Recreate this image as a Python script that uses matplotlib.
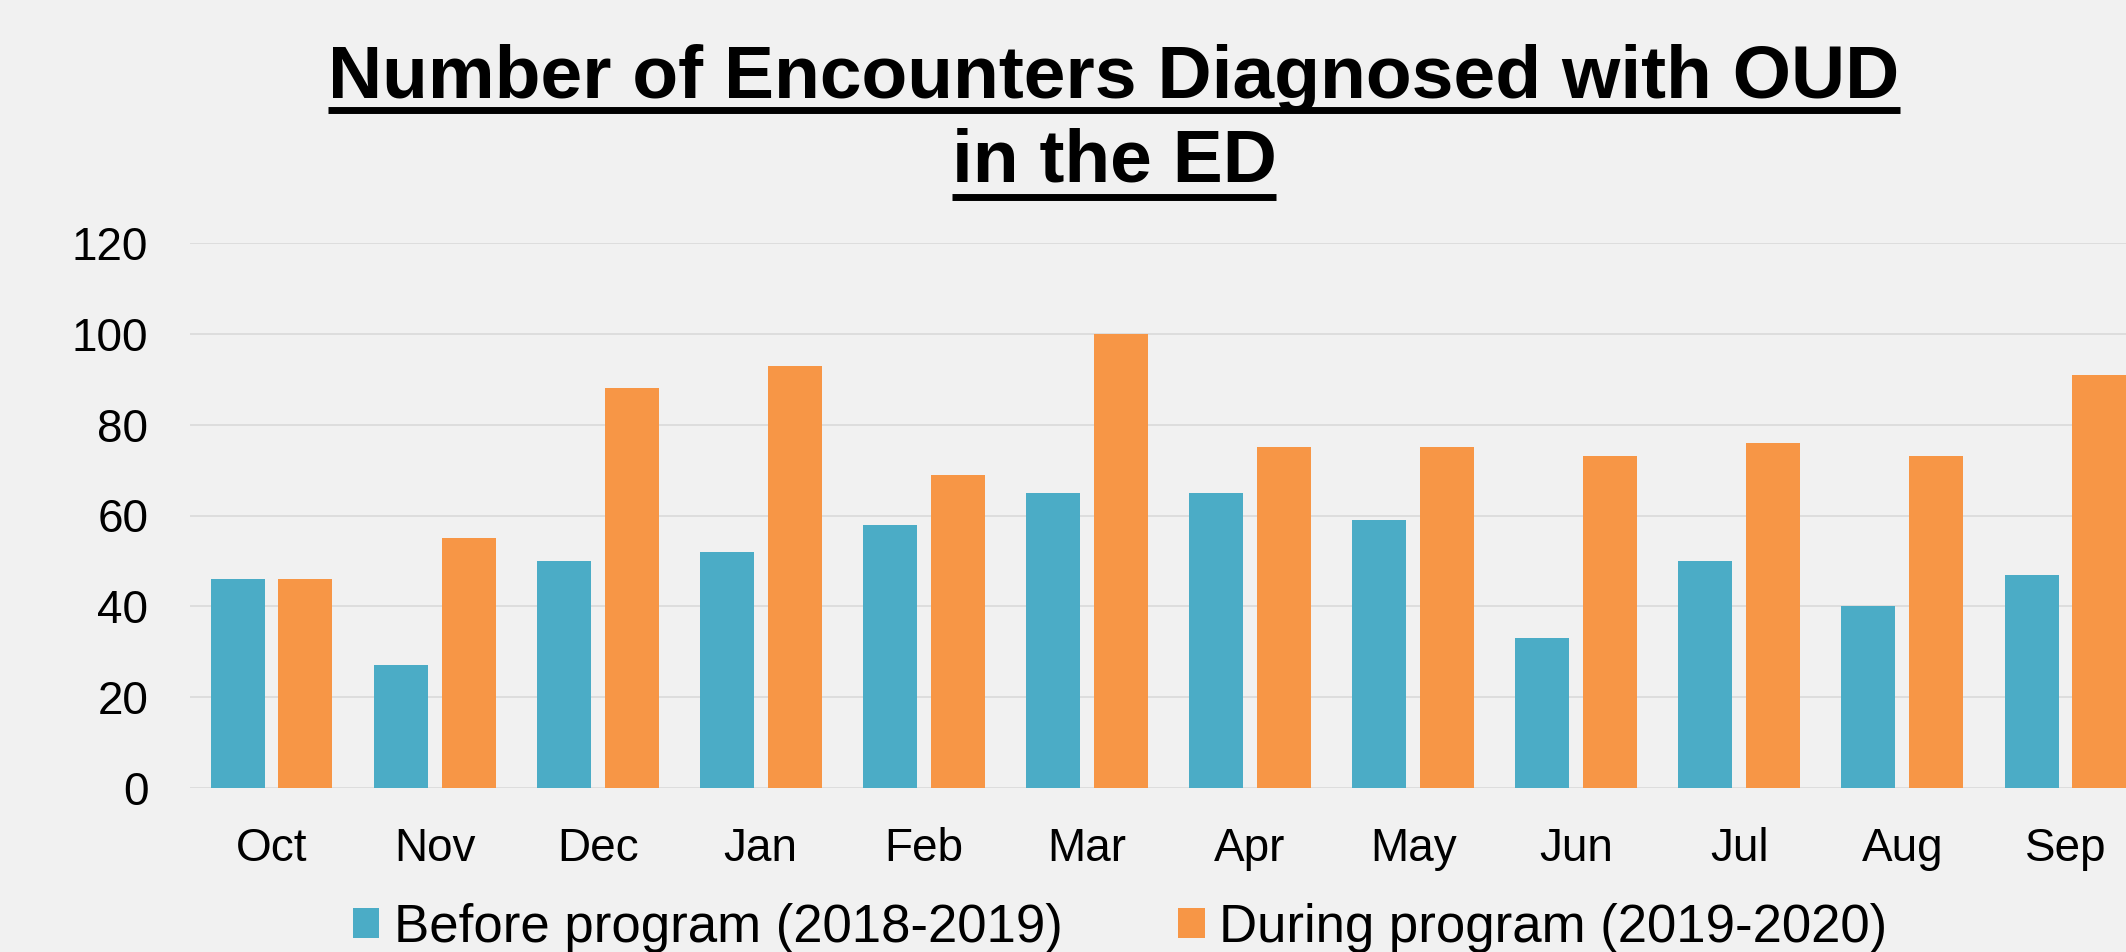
import matplotlib
matplotlib.use("Agg")
import matplotlib.pyplot as plt
from matplotlib.lines import Line2D
from matplotlib.patches import Patch
import numpy as np

plt.rcParams["font.family"] = ["Liberation Sans", "DejaVu Sans"]

# data
months = ["Oct", "Nov", "Dec", "Jan", "Feb", "Mar", "Apr", "May", "Jun", "Jul", "Aug", "Sep"]
before = [46, 27, 50, 52, 58, 65, 65, 59, 33, 50, 40, 47]
during = [46, 55, 88, 93, 69, 100, 75, 75, 73, 76, 73, 91]
series_labels = ["Before program (2018-2019)", "During program (2019-2020)"]
yticks = [0, 20, 40, 60, 80, 100, 120]

BLUE = "#4BACC6"
ORANGE = "#F79646"
BG = "#F1F1F1"
GRID = "#D9D9D9"

W, H, DPI = 2126, 952, 100
fig = plt.figure(figsize=(W / DPI, H / DPI), dpi=DPI, facecolor=BG)
# axes runs a little past the right edge, like the cropped original
ax = fig.add_axes([190 / W, 164 / H, (2147 - 190) / W, 545 / H], facecolor=BG)

x = np.arange(len(months))
bw = 0.331
off = 0.208
ax.bar(x - off, before, width=bw, color=BLUE, zorder=3)
ax.bar(x + off, during, width=bw, color=ORANGE, zorder=3)

ax.set_xlim(-0.5, len(months) - 0.5)
ax.set_ylim(0, 120)
ax.set_yticks(yticks)
ax.set_yticklabels([str(v) for v in yticks], fontsize=33)
ax.set_xticks(x)
ax.set_xticklabels(months, fontsize=33)
ax.tick_params(axis="y", length=0, pad=30)
ax.tick_params(axis="x", length=0, pad=28)
ax.yaxis.grid(True, color=GRID, linewidth=1.2, zorder=0)
for s in ax.spines.values():
    s.set_visible(False)

# title, two underlined lines
cx = 1114 / W
lines = [("Number of Encounters Diagnosed with OUD", 98, 109.5),
         ("in the ED", 182, 197)]
fig.canvas.draw()
renderer = fig.canvas.get_renderer()
for txt, base_px, ul_px in lines:
    t = fig.text(cx, 1 - base_px / H, txt, fontsize=54, fontweight="bold",
                 ha="center", va="baseline", color="black")
    bb = t.get_window_extent(renderer=renderer)
    fig.add_artist(Line2D([bb.x0 / W, bb.x1 / W], [1 - ul_px / H] * 2,
                          transform=fig.transFigure, color="black",
                          linewidth=5, solid_capstyle="butt"))

handles = [Patch(facecolor=BLUE, edgecolor="none"),
           Patch(facecolor=ORANGE, edgecolor="none")]
fig.legend(handles, series_labels, loc="center", bbox_to_anchor=(1120 / W, 1 - 928 / H),
           ncol=2, frameon=False, fontsize=38, handlelength=0.5, handleheight=0.5,
           handletextpad=0.27, columnspacing=2.2, borderpad=0, borderaxespad=0)

fig.savefig("out.png", dpi=DPI, facecolor=BG)
